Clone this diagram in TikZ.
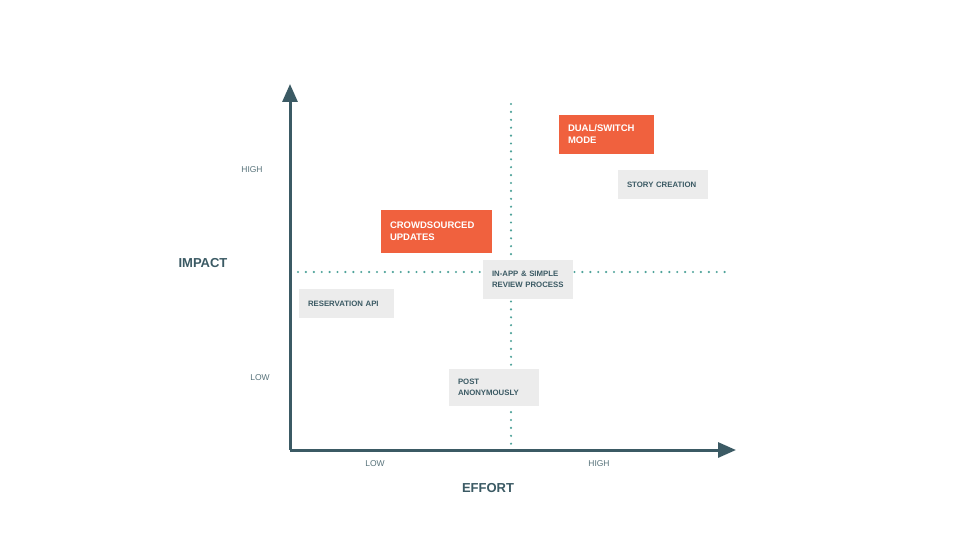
\documentclass[tikz,border=0pt]{standalone}
\usepackage{fontspec}
\setmainfont{Liberation Sans}
\usetikzlibrary{arrows.meta}
\definecolor{slate}{HTML}{3B5A64}
\definecolor{accent}{HTML}{F0613E}
\definecolor{tile}{HTML}{ECECEC}
\definecolor{guide}{HTML}{4FA39A}
\tikzset{
  axis/.style={draw=slate, line width=3pt, -{Triangle[length=18pt,width=15pt]}},
  guideline/.style={draw=guide, line width=2.4pt, line cap=round, dash pattern=on 0pt off 7.9pt},
  tick/.style={text=slate!85, font=\fontsize{8.5}{10}\selectfont},
  axislabel/.style={text=slate, font=\fontsize{13}{15}\selectfont\bfseries},
  hotbox/.style={fill=accent, text=white, font=\fontsize{9.5}{12}\selectfont\bfseries,
    align=left, inner sep=0pt, anchor=center},
  coolbox/.style={fill=tile, text=slate, font=\fontsize{7.8}{11}\selectfont\bfseries,
    align=left, inner sep=0pt, anchor=center},
}
\begin{document}
\begin{tikzpicture}[x=1pt,y=-1pt]
\useasboundingbox[fill=white] (0,0) rectangle (960,540);

% guide lines splitting the quadrants
\coordinate (vtop) at (511,104);
\coordinate (vbot) at (511,446);
\coordinate (hl) at (298,272);
\coordinate (hr) at (732,272);
\draw[guideline] (vtop) -- (vbot);
\draw[guideline] (hl) -- (hr);

% axes
\coordinate (origin) at (290,450);
\coordinate (ytip) at (290,84);
\coordinate (xtip) at (736,450);
\draw[axis] (origin) -- (ytip);
\draw[axis] (origin) -- (xtip);

% axis labels
\node[tick] (yhigh) at (252,170) {HIGH};
\node[tick] (ylow) at (260,378) {LOW};
\node[axislabel] (impact) at (203,263) {IMPACT};
\node[tick] (xlow) at (375,464) {LOW};
\node[tick] (xhigh) at (599,464) {HIGH};
\node[axislabel] (effort) at (488,488) {EFFORT};

% initiatives
\node[hotbox, minimum width=95pt, minimum height=39pt, text width=77pt] (dual) at (606.5,134.5) {DUAL/SWITCH\\MODE};
\node[coolbox, minimum width=90pt, minimum height=29pt, text width=72pt] (story) at (663,184.5) {STORY CREATION};
\node[hotbox, minimum width=111pt, minimum height=43pt, text width=93pt] (crowd) at (436.5,231.5) {CROWDSOURCED\\UPDATES};
\node[coolbox, minimum width=90pt, minimum height=39pt, text width=72pt] (inapp) at (528,279.5) {IN-APP \& SIMPLE\\REVIEW PROCESS};
\node[coolbox, minimum width=95pt, minimum height=29pt, text width=77pt] (reserve) at (346.5,303.5) {RESERVATION API};
\node[coolbox, minimum width=90pt, minimum height=37pt, text width=72pt] (post) at (494,387.5) {POST\\ANONYMOUSLY};
\end{tikzpicture}
\end{document}
